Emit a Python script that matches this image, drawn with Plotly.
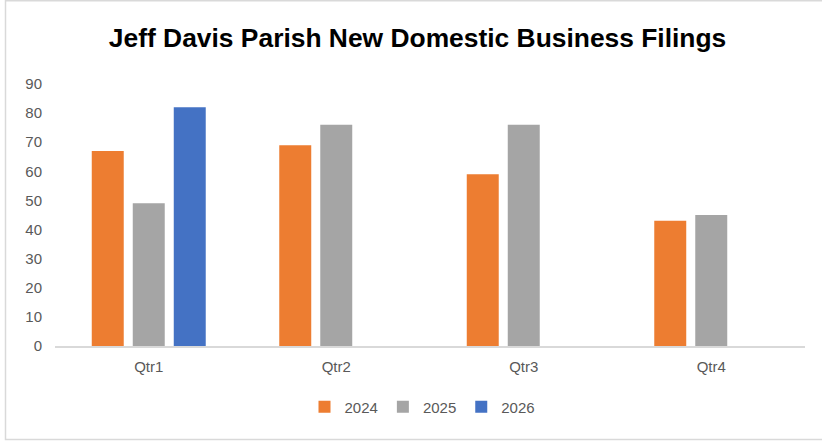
import plotly.graph_objects as go

quarters = ["Qtr1", "Qtr2", "Qtr3", "Qtr4"]
filings_2024 = [67, 69, 59, 43]
filings_2025 = [49, 76, 76, 45]
filings_2026 = [82, None, None, None]

colors = {"2024": "#ED7D31", "2025": "#A5A5A5", "2026": "#4472C4"}

fig = go.Figure()
for name, vals in [("2024", filings_2024), ("2025", filings_2025), ("2026", filings_2026)]:
    fig.add_trace(go.Bar(x=quarters, y=vals, name=name,
                         marker=dict(color=colors[name], line=dict(width=0))))

# thin grey frame round the whole chart, like the Excel chart area
fig.add_shape(type="rect", xref="paper", yref="paper",
              x0=-0.066, x1=1.05, y0=-0.357, y1=1.318,
              line=dict(color="#D9D9D9", width=1.5), layer="below")

fig.update_layout(
    width=822, height=442,
    margin=dict(l=55, r=17, t=84, b=96),
    paper_bgcolor="white", plot_bgcolor="white",
    barmode="group", bargap=0.344, bargroupgap=0.22,
    title=dict(text="<b>Jeff Davis Parish New Domestic Business Filings</b>",
               x=0.508, xanchor="center", y=0.914, yanchor="middle",
               font=dict(family="Liberation Sans, Arial", size=26.4, color="black")),
    font=dict(family="Liberation Sans, Arial", size=15, color="#595959"),
    xaxis=dict(showline=True, linecolor="#D9D9D9", linewidth=1.5,
               showgrid=False, ticks="", ticklabelstandoff=6,
               tickfont=dict(size=15, color="#595959")),
    yaxis=dict(range=[0, 90], dtick=10, showgrid=False, zeroline=False,
               showline=False, ticks="", ticklabelstandoff=12,
               tickfont=dict(size=15, color="#595959")),
    legend=dict(orientation="h", x=0.49, xanchor="center", y=-0.233, yanchor="middle",
                font=dict(size=15, color="#595959"), itemwidth=30,
                traceorder="normal"),
    showlegend=True,
)

# drop the default 8px page margin so the figure sits at the window corner
fig.write_html("out.html", config={"displayModeBar": False},
               post_script="document.body.style.margin='0';")
